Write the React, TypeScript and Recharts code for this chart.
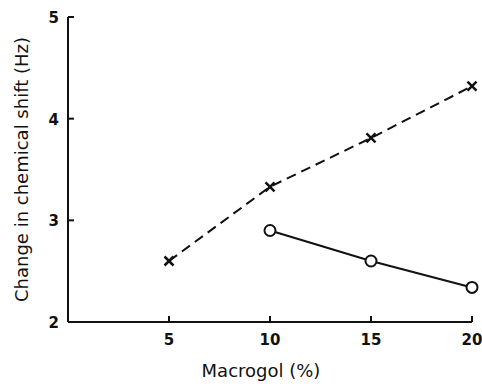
import React from "react";
import { LineChart, Line, XAxis, YAxis } from "recharts";

// values
const macrogol = [5, 10, 15, 20];
const crossShift = [2.6, 3.33, 3.81, 4.32];
const circleShift: (number | null)[] = [null, 2.9, 2.6, 2.34];
const xTicks = [5, 10, 15, 20];
const yTicks = [2, 3, 4, 5];

const data = macrogol.map((m, i) => ({
  macrogol: m,
  cross: crossShift[i],
  circle: circleShift[i],
}));

const INK = "#111";
const FONT = "'DejaVu Sans', sans-serif";

// ticks point inward, like the printed figure
const XTick = (props: any) => {
  const { x, y, payload } = props;
  return (
    <g>
      <path d={`M${x},${y}V${y - 6}`} stroke={INK} strokeWidth={2} />
      <text x={x} y={y + 23} textAnchor="middle" fontFamily={FONT} fontWeight={700} fontSize={15} fill={INK}>
        {payload.value}
      </text>
    </g>
  );
};

const YTick = (props: any) => {
  const { x, y, payload } = props;
  return (
    <g>
      {payload.value !== 2 && <path d={`M${x},${y}H${x + 6}`} stroke={INK} strokeWidth={2} />}
      <text x={x - 9} y={y + 6} textAnchor="end" fontFamily={FONT} fontWeight={700} fontSize={15} fill={INK}>
        {payload.value}
      </text>
    </g>
  );
};

const CrossDot = (props: any) => {
  const { cx, cy } = props;
  if (cx == null || cy == null) return null;
  const s = 4.5;
  return (
    <g>
      <line x1={cx - s} y1={cy - s} x2={cx + s} y2={cy + s} stroke={INK} strokeWidth={2.5} />
      <line x1={cx - s} y1={cy + s} x2={cx + s} y2={cy - s} stroke={INK} strokeWidth={2.5} />
    </g>
  );
};

export default function App() {
  return (
    <div style={{ position: "absolute", left: 0, top: 0, background: "#fff" }}>
      <LineChart
        width={482}
        height={384}
        data={data}
        margin={{ top: 17, right: 10, bottom: 0, left: 0 }}
      >
        <XAxis
          dataKey="macrogol"
          type="number"
          domain={[0, 20]}
          ticks={xTicks}
          height={62}
          tickSize={0}
          tickMargin={0}
          tickLine={false}
          tick={<XTick />}
          axisLine={{ stroke: INK, strokeWidth: 2 }}
          label={{
            value: "Macrogol (%)",
            position: "insideBottom",
            offset: 7,
            dx: -9,
            style: { fontFamily: FONT, fontSize: 18, fill: INK },
          }}
        />
        <YAxis
          type="number"
          domain={[2, 5]}
          ticks={yTicks}
          width={68}
          tickSize={0}
          tickMargin={0}
          tickLine={false}
          tick={<YTick />}
          axisLine={{ stroke: INK, strokeWidth: 2 }}
          label={{
            value: "Change in chemical shift (Hz)",
            angle: -90,
            position: "insideLeft",
            offset: 22,
            style: { fontFamily: FONT, fontSize: 18, fill: INK, textAnchor: "middle" },
          }}
        />
        <Line
          dataKey="cross"
          stroke={INK}
          strokeWidth={2}
          strokeDasharray="10 6"
          dot={<CrossDot />}
          activeDot={false}
          isAnimationActive={false}
        />
        <Line
          dataKey="circle"
          stroke={INK}
          strokeWidth={2}
          dot={{ r: 5.5, fill: "#fff", stroke: INK, strokeWidth: 2 }}
          activeDot={false}
          isAnimationActive={false}
        />
      </LineChart>
    </div>
  );
}
